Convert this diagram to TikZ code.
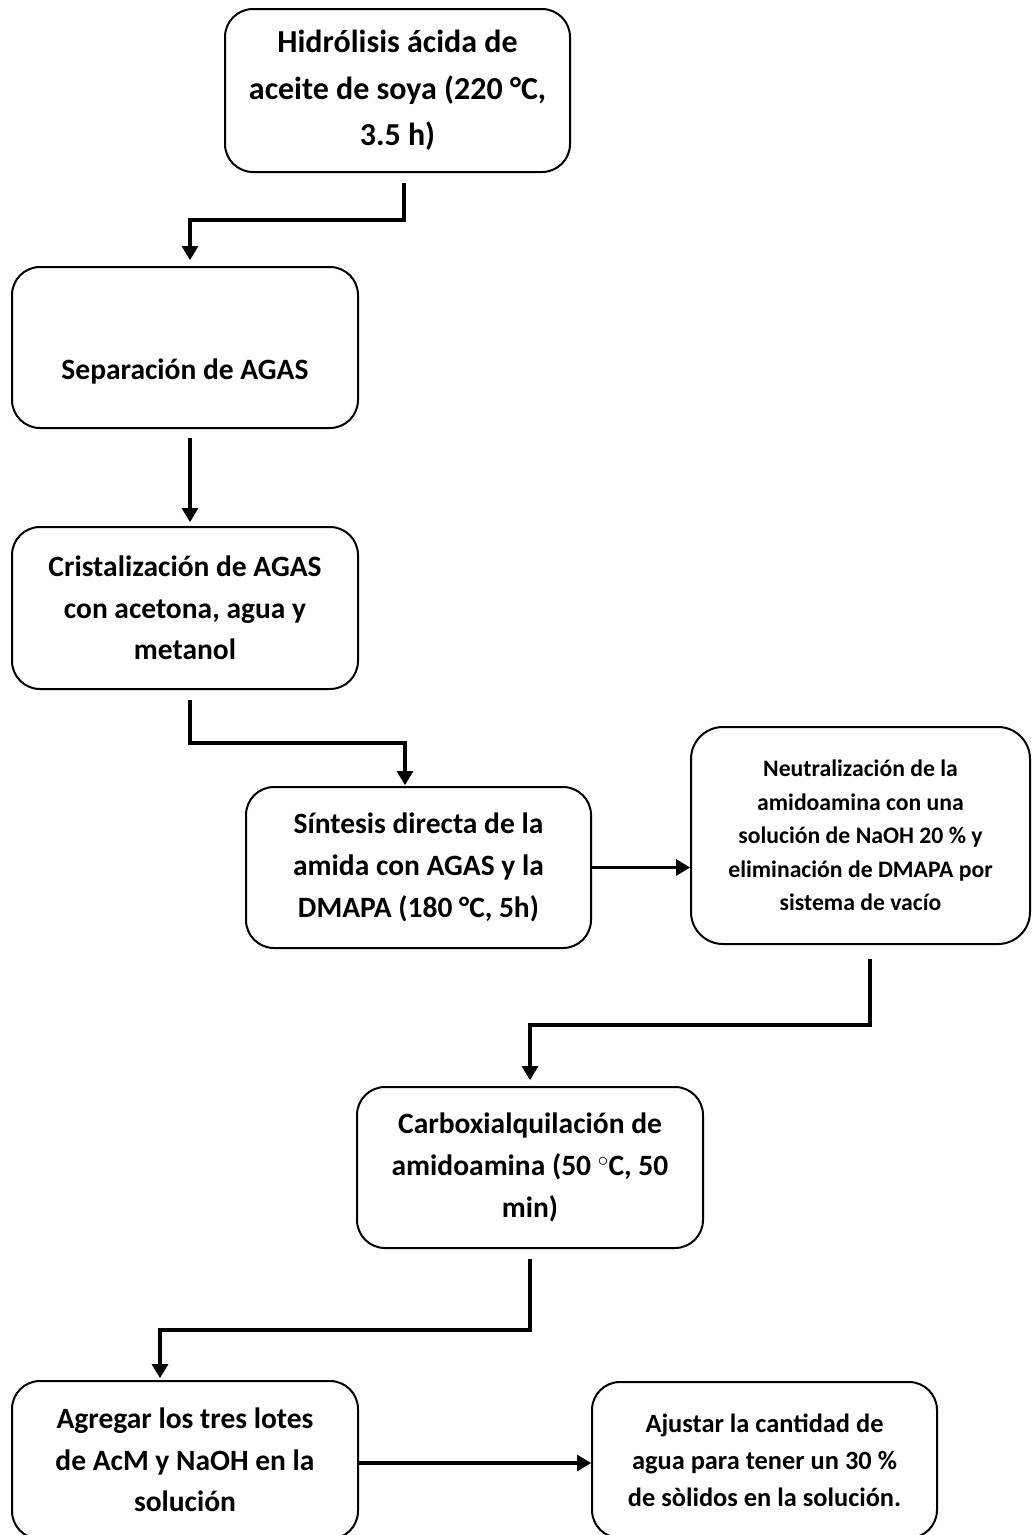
\documentclass[tikz,border=0pt]{standalone}
\usepackage{fontspec}
\setmainfont{Carlito}
\usetikzlibrary{arrows.meta}
\tikzset{
  box/.style={draw, line width=2pt, rounded corners=28pt, inner sep=0pt, align=center,
    font=\bfseries\fontsize{29.5}{41.7}\selectfont},
  conn/.style={line width=3.5pt, line cap=butt,
    -{Triangle[width=17pt,length=14pt,line width=0pt]}},
}
\begin{document}
\begin{tikzpicture}[x=1pt,y=-1pt]
\useasboundingbox (0,0) rectangle (1032,1535);
\clip (0,0) rectangle (1032,1535);

\node[box, minimum width=345pt, minimum height=163pt,
  font=\bfseries\fontsize{32}{46.5}\selectfont] (b1) at (397.5,90.5)
  {Hidrólisis ácida de\\aceite de soya (220 °C,\\3.5 h)};
\node[box, minimum width=346pt, minimum height=161pt, text height=74pt, text depth=11pt]
  (b2) at (185,347.5) {Separación de AGAS};
\node[box, minimum width=346pt, minimum height=162pt] (b3) at (185,608)
  {Cristalización de AGAS\\con acetona, agua y\\metanol};
\node[box, minimum width=345pt, minimum height=161pt] (b4) at (418.5,867.5)
  {Síntesis directa de la\\amida con AGAS y la\\DMAPA (180 °C, 5h)};
\node[box, minimum width=339pt, minimum height=217pt, rounded corners=32pt,
  font=\bfseries\fontsize{23.7}{33.5}\selectfont] (b5) at (860.5,835.5)
  {Neutralización de la\\amidoamina con una\\solución de NaOH 20 \% y\\eliminación de DMAPA por\\sistema de vacío};
\node[box, minimum width=346pt, minimum height=161pt] (b6) at (530,1167.5)
  {Carboxialquilación de\\amidoamina (50 $^{\circ}$C, 50\\min)};
\node[box, minimum width=346pt, minimum height=158pt] (b7) at (185,1460)
  {Agregar los tres lotes\\de AcM y NaOH en la\\solución};
\node[box, minimum width=345pt, minimum height=156pt,
  font=\bfseries\fontsize{26.4}{37}\selectfont] (b8) at (764.5,1460)
  {Ajustar la cantidad de\\agua para tener un 30 \%\\de sòlidos en la solución.};

% connectors
\coordinate (k1) at (404,220);
\coordinate (k2) at (190,220);
\draw[conn, shorten <=10pt, shorten >=6pt] (b1.south -| k1) -- (k1) -- (k2) -- (b2.north -| k2);

\coordinate (k3) at (190,480);
\draw[conn, shorten <=9pt, shorten >=4pt] (b2.south -| k3) -- (b3.north -| k3);

\coordinate (k4) at (190,743);
\coordinate (k5) at (405,743);
\draw[conn, shorten <=10pt, shorten >=1pt] (b3.south -| k4) -- (k4) -- (k5) -- (b4.north -| k5);

\draw[conn] (b4.east) -- (b5.west |- b4.east);

\coordinate (k6) at (870,1025);
\coordinate (k7) at (530,1025);
\draw[conn, shorten <=14pt, shorten >=6pt] (b5.south -| k6) -- (k6) -- (k7) -- (b6.north -| k7);

\coordinate (k8) at (530,1330);
\coordinate (k9) at (160,1330);
\draw[conn, shorten <=10pt, shorten >=2pt] (b6.south -| k8) -- (k8) -- (k9) -- (b7.north -| k9);

\coordinate (k10) at (0,1463);
\draw[conn] (b7.east |- k10) -- (b8.west |- k10);
\end{tikzpicture}
\end{document}
